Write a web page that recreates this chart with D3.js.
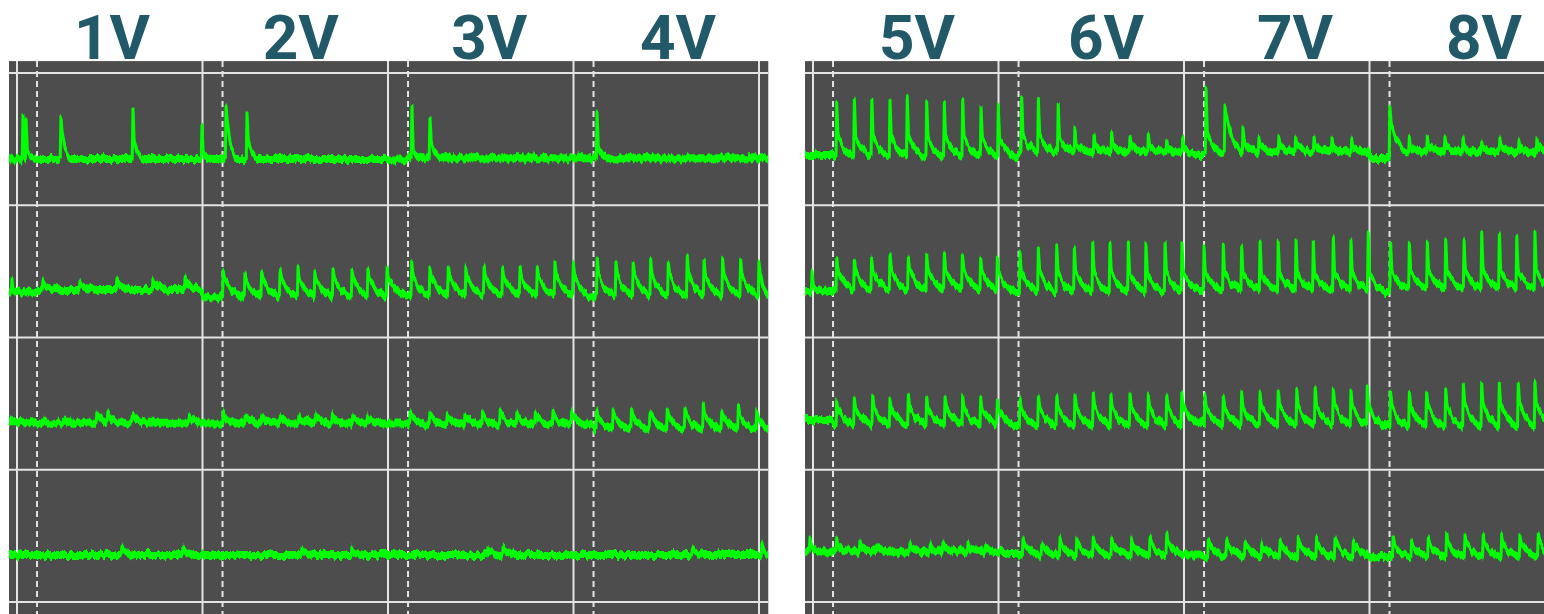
<!DOCTYPE html>
<html>
<head>
<meta charset="utf-8">
<script src="https://cdn.jsdelivr.net/npm/d3@7"></script>
<style>
  html, body { margin: 0; padding: 0; background: #ffffff; }
  svg { display: block; }
</style>
</head>
<body>
<svg id="chart" width="1544" height="614"></svg>
<script>
// ---- Stimulus labels (one per recording period) ----
const labels_1to4V = ["1V", "2V", "3V", "4V"];
const labels_5to8V = ["5V", "6V", "7V", "8V"];

// ---- Recorded events: [time (periods), peak (mV), level right after the peak (mV)] ----
// Channel 1 (top row)
const ch1_1to4V = [
  [0.032, 0.32, 0.20], [0.049, 0.28, 0.05], [0.237, 0.30, 0.19], [0.625, 0.36, 0.13], [0.997, 0.25, 0.02],
  [1.127, 0.39, 0.28], [1.240, 0.345, 0.13],
  [2.129, 0.40, 0.06], [2.226, 0.31, 0.13],
  [3.127, 0.345, 0.08]
];
const ch1_5to8V = [
  [0.128, 0.423, 0.17], [0.223, 0.441, 0.17], [0.317, 0.441, 0.17], [0.415, 0.428, 0.17], [0.508, 0.456, 0.17],
  [0.613, 0.428, 0.16], [0.708, 0.415, 0.16], [0.807, 0.443, 0.16], [0.906, 0.395, 0.15], [0.999, 0.392, 0.15],
  [1.125, 0.460, 0.17], [1.215, 0.448, 0.17], [1.322, 0.411, 0.15], [1.412, 0.222, 0.10], [1.515, 0.171, 0.09],
  [1.610, 0.191, 0.09], [1.709, 0.158, 0.08], [1.808, 0.176, 0.08], [1.907, 0.133, 0.07], [1.993, 0.156, 0.07],
  [2.119, 0.526, 0.19], [2.221, 0.383, 0.33], [2.318, 0.224, 0.12], [2.404, 0.148, 0.09], [2.512, 0.156, 0.09],
  [2.602, 0.156, 0.09], [2.701, 0.156, 0.09], [2.798, 0.148, 0.08], [2.904, 0.148, 0.08],
  [3.110, 0.383, 0.26], [3.215, 0.163, 0.08], [3.312, 0.171, 0.08], [3.407, 0.156, 0.08], [3.504, 0.148, 0.08],
  [3.605, 0.118, 0.07], [3.703, 0.148, 0.08], [3.806, 0.133, 0.07], [3.903, 0.148, 0.08]
];
// Channel 2
const ch2_1to4V = [
  [-0.027, 0.09, 0.00],
  [0.140, 0.07, 0.04], [0.340, 0.06, 0.03], [0.539, 0.08, 0.04], [0.733, 0.09, 0.05], [0.906, 0.10, 0.05],
  [1.112, 0.150, 0.09], [1.229, 0.135, 0.08], [1.319, 0.135, 0.08], [1.418, 0.150, 0.09], [1.515, 0.173, 0.09],
  [1.606, 0.135, 0.08], [1.704, 0.158, 0.09], [1.806, 0.150, 0.09], [1.892, 0.158, 0.09], [1.995, 0.173, 0.09],
  [2.128, 0.211, 0.10], [2.226, 0.173, 0.10], [2.325, 0.173, 0.10], [2.420, 0.173, 0.10], [2.518, 0.173, 0.10],
  [2.618, 0.173, 0.10], [2.712, 0.173, 0.10], [2.805, 0.173, 0.10], [2.900, 0.211, 0.11], [2.999, 0.203, 0.11],
  [3.128, 0.249, 0.12], [3.229, 0.211, 0.12], [3.322, 0.203, 0.12], [3.416, 0.226, 0.12], [3.511, 0.211, 0.12],
  [3.613, 0.264, 0.13], [3.704, 0.226, 0.12], [3.804, 0.241, 0.12], [3.901, 0.241, 0.12], [4.000, 0.211, 0.12]
];
const ch2_5to8V = [
  [-0.005, 0.135, 0.02],
  [0.128, 0.241, 0.15], [0.223, 0.226, 0.15], [0.316, 0.241, 0.15], [0.415, 0.264, 0.16], [0.514, 0.249, 0.16],
  [0.613, 0.264, 0.16], [0.708, 0.279, 0.16], [0.805, 0.264, 0.16], [0.904, 0.241, 0.15], [0.994, 0.241, 0.14],
  [1.116, 0.287, 0.14], [1.215, 0.324, 0.14], [1.314, 0.340, 0.14], [1.409, 0.324, 0.14], [1.508, 0.362, 0.14],
  [1.601, 0.362, 0.14], [1.700, 0.355, 0.14], [1.795, 0.355, 0.14], [1.898, 0.362, 0.14], [1.989, 0.355, 0.13],
  [2.108, 0.324, 0.13], [2.212, 0.340, 0.13], [2.311, 0.340, 0.13], [2.410, 0.362, 0.13], [2.508, 0.362, 0.13],
  [2.604, 0.377, 0.13], [2.697, 0.362, 0.13], [2.805, 0.392, 0.13], [2.900, 0.377, 0.13], [2.993, 0.430, 0.13],
  [3.114, 0.355, 0.14], [3.215, 0.355, 0.14], [3.312, 0.362, 0.14], [3.411, 0.377, 0.14], [3.510, 0.377, 0.14],
  [3.605, 0.437, 0.15], [3.700, 0.430, 0.15], [3.794, 0.400, 0.15], [3.892, 0.437, 0.15]
];
// Channel 3
const ch3_1to4V = [
  [0.430, 0.07, 0.04], [0.490, 0.08, 0.04], [0.620, 0.05, 0.03], [0.930, 0.06, 0.03],
  [1.112, 0.09, 0.04], [1.230, 0.05, 0.03], [1.320, 0.05, 0.03], [1.420, 0.04, 0.02], [1.520, 0.05, 0.03],
  [1.610, 0.05, 0.03], [1.700, 0.06, 0.03], [1.810, 0.05, 0.03], [1.890, 0.05, 0.03],
  [2.120, 0.07, 0.04], [2.226, 0.06, 0.04], [2.320, 0.07, 0.04], [2.415, 0.07, 0.04], [2.510, 0.07, 0.04],
  [2.605, 0.09, 0.05], [2.695, 0.08, 0.04], [2.795, 0.07, 0.04], [2.890, 0.08, 0.04], [2.990, 0.08, 0.04],
  [3.125, 0.092, 0.05], [3.214, 0.092, 0.05], [3.313, 0.107, 0.05], [3.412, 0.076, 0.05], [3.506, 0.107, 0.05],
  [3.601, 0.107, 0.05], [3.700, 0.144, 0.06], [3.799, 0.092, 0.05], [3.889, 0.129, 0.05], [3.988, 0.092, 0.05]
];
const ch3_5to8V = [
  [0.128, 0.167, 0.10], [0.223, 0.182, 0.10], [0.322, 0.205, 0.11], [0.415, 0.182, 0.11], [0.514, 0.205, 0.11],
  [0.613, 0.190, 0.11], [0.712, 0.190, 0.11], [0.807, 0.205, 0.11], [0.904, 0.182, 0.11], [0.994, 0.167, 0.10],
  [1.116, 0.175, 0.11], [1.215, 0.190, 0.12], [1.314, 0.197, 0.12], [1.412, 0.205, 0.12], [1.511, 0.220, 0.12],
  [1.606, 0.212, 0.12], [1.709, 0.205, 0.12], [1.808, 0.205, 0.12], [1.907, 0.197, 0.12], [1.988, 0.220, 0.12],
  [2.113, 0.205, 0.12], [2.212, 0.190, 0.12], [2.311, 0.228, 0.12], [2.410, 0.220, 0.12], [2.508, 0.243, 0.13],
  [2.608, 0.243, 0.13], [2.707, 0.265, 0.14], [2.805, 0.258, 0.14], [2.900, 0.243, 0.13], [2.988, 0.258, 0.13],
  [3.114, 0.228, 0.13], [3.215, 0.228, 0.13], [3.308, 0.228, 0.13], [3.411, 0.243, 0.13], [3.506, 0.280, 0.15],
  [3.605, 0.295, 0.15], [3.700, 0.295, 0.15], [3.802, 0.303, 0.16], [3.892, 0.295, 0.15]
];
// Channel 4 (bottom row)
const ch4_1to4V = [
  [0.566, 0.06, 0.03], [0.895, 0.05, 0.03], [1.536, 0.05, 0.03], [1.805, 0.06, 0.03],
  [2.540, 0.05, 0.03], [2.620, 0.06, 0.03], [3.640, 0.05, 0.03], [4.016, 0.09, 0.06]
];
const ch4_5to8V = [
  [-0.016, 0.124, 0.06],
  [0.128, 0.124, 0.06], [0.253, 0.100, 0.05], [0.343, 0.070, 0.04], [0.523, 0.090, 0.05], [0.631, 0.080, 0.04],
  [0.700, 0.090, 0.05], [0.836, 0.100, 0.05], [0.930, 0.070, 0.04],
  [1.132, 0.124, 0.08], [1.233, 0.086, 0.06], [1.332, 0.132, 0.08], [1.422, 0.124, 0.08], [1.511, 0.132, 0.08],
  [1.610, 0.124, 0.08], [1.718, 0.124, 0.08], [1.817, 0.132, 0.08], [1.907, 0.162, 0.09],
  [2.131, 0.124, 0.08], [2.230, 0.109, 0.07], [2.329, 0.094, 0.06], [2.419, 0.094, 0.06], [2.518, 0.109, 0.07],
  [2.616, 0.132, 0.08], [2.715, 0.132, 0.08], [2.814, 0.132, 0.08], [2.913, 0.109, 0.07],
  [3.128, 0.132, 0.08], [3.227, 0.109, 0.07], [3.317, 0.132, 0.08], [3.416, 0.162, 0.09], [3.515, 0.147, 0.09],
  [3.613, 0.147, 0.09], [3.713, 0.147, 0.09], [3.811, 0.147, 0.09], [3.910, 0.162, 0.09]
];

// ---- Resting levels (mV) per period: before stimulus onset / during the response ----
const ch1Pre_1to4V = [-0.015, -0.010, -0.015, -0.005];
const ch1Rest_1to4V = [-0.010, -0.010, -0.005, -0.005];
const ch1Pre_5to8V = [0.020, 0.005, 0.020, -0.010];
const ch1Rest_5to8V = [0.010, 0.040, 0.040, 0.040];
const ch2Pre_1to4V = [-0.020, -0.055, -0.040, -0.055];
const ch2Rest_1to4V = [0.000, -0.050, -0.040, -0.045];
const ch2Pre_5to8V = [-0.016, -0.016, 0.000, -0.016];
const ch2Rest_5to8V = [0.000, -0.016, 0.000, 0.015];
const ch3Pre_1to4V = [0.000, -0.010, -0.010, -0.020];
const ch3Rest_1to4V = [-0.005, -0.010, -0.020, -0.050];
const ch3Pre_5to8V = [0.016, -0.030, 0.000, -0.030];
const ch3Rest_5to8V = [-0.020, -0.030, -0.022, -0.037];
const ch4Pre_1to4V = [-0.005, -0.005, -0.005, -0.005];
const ch4Rest_1to4V = [-0.005, -0.005, -0.005, -0.005];
const ch4Pre_5to8V = [0.020, 0.010, 0.000, -0.020];
const ch4Rest_5to8V = [0.020, -0.010, -0.020, -0.020];

// ---- Layout ----
const W = 1544, H = 614;
const PERIOD_PX = 185.5;          // width of one stimulus period
const ONSET = 0.108;              // stimulus onset inside each period (dashed line)
const T_START = -0.043, T_END = 4.05;
const BAND = 4;                   // half thickness of the trace band, px
const panels = [
  { x0: 17, labels: labels_1to4V, labelRange: [112, 678],
    traces: [
      { events: ch1_1to4V, pre: ch1Pre_1to4V, rest: ch1Rest_1to4V, tail: 0.05 },
      { events: ch2_1to4V, pre: ch2Pre_1to4V, rest: ch2Rest_1to4V, tail: 0.09 },
      { events: ch3_1to4V, pre: ch3Pre_1to4V, rest: ch3Rest_1to4V, tail: 0.08 },
      { events: ch4_1to4V, pre: ch4Pre_1to4V, rest: ch4Rest_1to4V, tail: 0.06 }
    ] },
  { x0: 813, labels: labels_5to8V, labelRange: [917, 1484],
    traces: [
      { events: ch1_5to8V, pre: ch1Pre_5to8V, rest: ch1Rest_5to8V, tail: 0.085 },
      { events: ch2_5to8V, pre: ch2Pre_5to8V, rest: ch2Rest_5to8V, tail: 0.09 },
      { events: ch3_5to8V, pre: ch3Pre_5to8V, rest: ch3Rest_5to8V, tail: 0.09 },
      { events: ch4_5to8V, pre: ch4Pre_5to8V, rest: ch4Rest_5to8V, tail: 0.09 }
    ] }
];
const ROW_ZERO = 0.64;            // zero level of each channel, in divisions below its upper grid line

const svg = d3.select("#chart");
const defs = svg.append("defs");

// Fine vertical jitter on the traces (acquisition noise texture)
const flt = defs.append("filter").attr("id", "jitter")
  .attr("filterUnits", "userSpaceOnUse")
  .attr("x", 0).attr("y", 0).attr("width", W).attr("height", H);
flt.append("feTurbulence").attr("type", "fractalNoise")
  .attr("baseFrequency", "0.3 0.03").attr("numOctaves", 2).attr("seed", 7).attr("result", "turb");
flt.append("feColorMatrix").attr("in", "turb").attr("type", "matrix")
  .attr("values", "0 0 0 0 0.5  0 1 0 0 0  0 0 1 0 0  0 0 0 0 1").attr("result", "map");
flt.append("feDisplacementMap").attr("in", "SourceGraphic").attr("in2", "map")
  .attr("scale", 8).attr("xChannelSelector", "R").attr("yChannelSelector", "G");

const y = d3.scaleLinear().domain([-4, 0]).range([602, 73]);

function levelAt(t, pre, rest) {
  if (t >= 4) return rest[3];
  const k = Math.max(0, Math.min(3, Math.floor(t)));
  const phase = t - Math.floor(t);
  return (t < 0 || phase < ONSET) ? pre[k] : rest[k];
}

function buildTrace(tr, t0, t1) {
  const pts = [], busy = [];
  tr.events.forEach((e, i) => {
    const [t, peak, shoulder] = e;
    const next = i + 1 < tr.events.length ? tr.events[i + 1][0] : t1;
    const end = Math.min(t + tr.tail, next - 0.005);
    const lo = levelAt(end, tr.pre, tr.rest);
    pts.push([t - 0.004, levelAt(t - 0.004, tr.pre, tr.rest)]);
    pts.push([t, peak]);
    pts.push([t + 0.007, shoulder]);
    if (end > t + 0.02) pts.push([t + 0.007 + (end - t - 0.007) * 0.35, lo + (shoulder - lo) * 0.4]);
    pts.push([end, lo]);
    busy.push([t - 0.004, end]);
  });
  const knots = [t0, t1];
  for (let k = 0; k <= 4; k++) knots.push(k - 0.001, k + 0.001, k + ONSET - 0.001, k + ONSET + 0.001);
  knots.filter(t => t >= t0 && t <= t1 && !busy.some(([a, b]) => t >= a && t <= b))
    .forEach(t => pts.push([t, levelAt(t, tr.pre, tr.rest)]));
  return pts.sort((a, b) => a[0] - b[0]);
}

panels.forEach((p, pi) => {
  const x = d3.scaleLinear().domain([0, 4]).range([p.x0, p.x0 + 4 * PERIOD_PX]);
  const g = svg.append("g");
  const px0 = x(T_START), px1 = Math.min(W, x(T_END));
  const py0 = y(0.09), py1 = H;

  defs.append("clipPath").attr("id", "clip" + pi)
    .append("rect").attr("x", px0).attr("y", py0).attr("width", px1 - px0).attr("height", py1 - py0);

  g.append("rect").attr("x", px0).attr("y", py0).attr("width", px1 - px0).attr("height", py1 - py0)
    .attr("fill", "#4d4d4d");

  const grid = g.append("g").attr("clip-path", `url(#clip${pi})`);
  grid.selectAll("line.h").data(d3.range(0, -5, -1)).join("line")
    .attr("x1", px0).attr("x2", px1).attr("y1", d => y(d)).attr("y2", d => y(d))
    .attr("stroke", "#e4e4e4").attr("stroke-width", 2);
  grid.selectAll("line.v").data(d3.range(0, 5)).join("line")
    .attr("x1", d => x(d)).attr("x2", d => x(d)).attr("y1", py0).attr("y2", py1)
    .attr("stroke", "#e4e4e4").attr("stroke-width", 2);
  grid.selectAll("line.d").data(d3.range(0, 4)).join("line")
    .attr("x1", d => x(d + ONSET)).attr("x2", d => x(d + ONSET)).attr("y1", py0).attr("y2", py1)
    .attr("stroke", "#e4e4e4").attr("stroke-width", 2).attr("stroke-dasharray", "6,4");

  const traces = g.append("g").attr("clip-path", `url(#clip${pi})`)
    .append("g").attr("filter", "url(#jitter)");
  p.traces.forEach((tr, r) => {
    const pts = buildTrace(tr, T_START, T_END);
    const yv = d => y(-(r + ROW_ZERO) + d[1]);
    // vertical noise band around the signal
    traces.append("path")
      .attr("d", d3.area().x(d => x(d[0])).y0(d => yv(d) + BAND).y1(d => yv(d) - BAND)(pts))
      .attr("fill", "#00ff00");
    // the signal itself
    traces.append("path")
      .attr("d", d3.line().x(d => x(d[0])).y(yv)(pts))
      .attr("fill", "none").attr("stroke", "#00ff00")
      .attr("stroke-width", 3).attr("stroke-linejoin", "round");
  });

  const lx = d3.scaleLinear().domain([0, 3]).range(p.labelRange);
  svg.append("g").selectAll("text").data(p.labels).join("text")
    .attr("x", (d, i) => lx(i)).attr("y", 58.5)
    .attr("text-anchor", "middle")
    .attr("font-family", "Roboto, sans-serif").attr("font-weight", 700)
    .attr("font-size", 62).attr("fill", "#215968")
    .text(d => d);
});
</script>
</body>
</html>
